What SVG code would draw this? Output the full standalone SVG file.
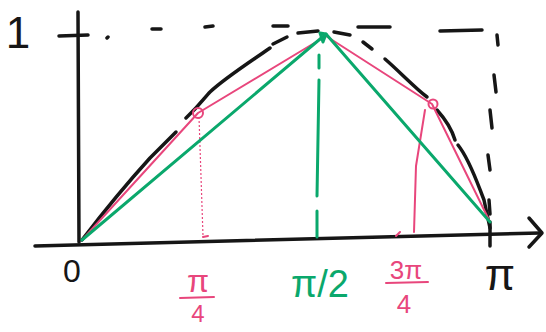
<svg xmlns="http://www.w3.org/2000/svg" width="546" height="332" viewBox="0 0 546 332">
<style>
.k{stroke:#161616;fill:none;stroke-width:3.5;stroke-linecap:round;stroke-linejoin:round}
.p{stroke:#e8467c;fill:none;stroke-width:2;stroke-linecap:round;stroke-linejoin:round}
.pd{stroke:#e8467c;fill:none;stroke-width:1.2;stroke-dasharray:2 2}
.g{stroke:#0aa86c;fill:none;stroke-width:3;stroke-linecap:round;stroke-linejoin:round}
.t{font-family:"Liberation Sans",Arial,sans-serif;text-anchor:middle}
</style>
<rect width="546" height="332" fill="#fff"/>
<g id="axes">
<path class="k" d="M78 12 L79 242"/>
<path class="k" d="M59 36 L88 35"/>
<path class="k" d="M35 246 L540 233"/>
<path class="k" d="M529 218 L542 233 L529 247"/>
<path class="k" d="M490 222 L490 246"/>
</g>
<g id="guides">
<path class="k" d="M107 38 L108 37 M152 29 L161 29 M205 27 L213 26 M273 26 L288 26 M358 27 L390 27 M440 31 L482 30"/>
<path class="k" d="M497 35 L498 45 M494 75 L496 92 M490 110 L492 128 M488 155 L490 170 M489 200 L490 214"/>
</g>
<g id="sine">
<path class="k" d="M82 240 C105 210 130 180 150 158 L176 132"/>
<path class="k" d="M186 118 C200 105 205 97 210 92 C225 78 250 62 270 48"/>
<path class="k" d="M273 44 L287 37 M298 33 L318 31 M334 32 L350 35 M363 42 L372 49 M385 59 C400 72 415 88 427 97 M437 110 C446 120 452 130 455 140 M458 145 C470 160 478 185 484 200 L490 228"/>
</g>
<g id="pink">
<path class="p" d="M82 240 L198 113 L326 36 L432 104 L490 222"/>
<circle class="p" cx="198" cy="113" r="5"/>
<circle class="p" cx="433" cy="104" r="4.5"/>
<path class="pd" d="M199 117 L203 236"/>
<path class="p" d="M425 110 L416 166 L414 232" stroke-width="1.5"/>
<path class="p" d="M203 237 L208 236 M396 236 L400 232"/>
</g>
<g id="green">
<path class="g" d="M82 240 L326 34 L490 222"/>
<path class="g" d="M320 33 L326 34 L323 42 Z" fill="#0aa86c"/>
<path class="g" d="M319 55 L319 68 M319 80 L317 196 M317 211 L317 237"/>
</g>
<g id="labels">
<text class="t" x="18" y="48" font-size="44" fill="#161616">1</text>
<text class="t" x="72" y="282" font-size="32" fill="#161616">0</text>
<text class="t" x="198" y="292" font-size="32" fill="#e8467c">π</text>
<path class="p" d="M180 298 L214 297"/>
<text class="t" x="198" y="322" font-size="24" fill="#e8467c">4</text>
<text class="t" x="320" y="297" font-size="38" fill="#0aa86c">π/2</text>
<text class="t" x="406" y="279" font-size="26" fill="#e8467c">3π</text>
<path class="p" d="M386 283 L428 282"/>
<text class="t" x="404" y="313" font-size="26" fill="#e8467c">4</text>
<text class="t" x="500" y="290" font-size="44" fill="#161616">π</text>
</g>
</svg>
